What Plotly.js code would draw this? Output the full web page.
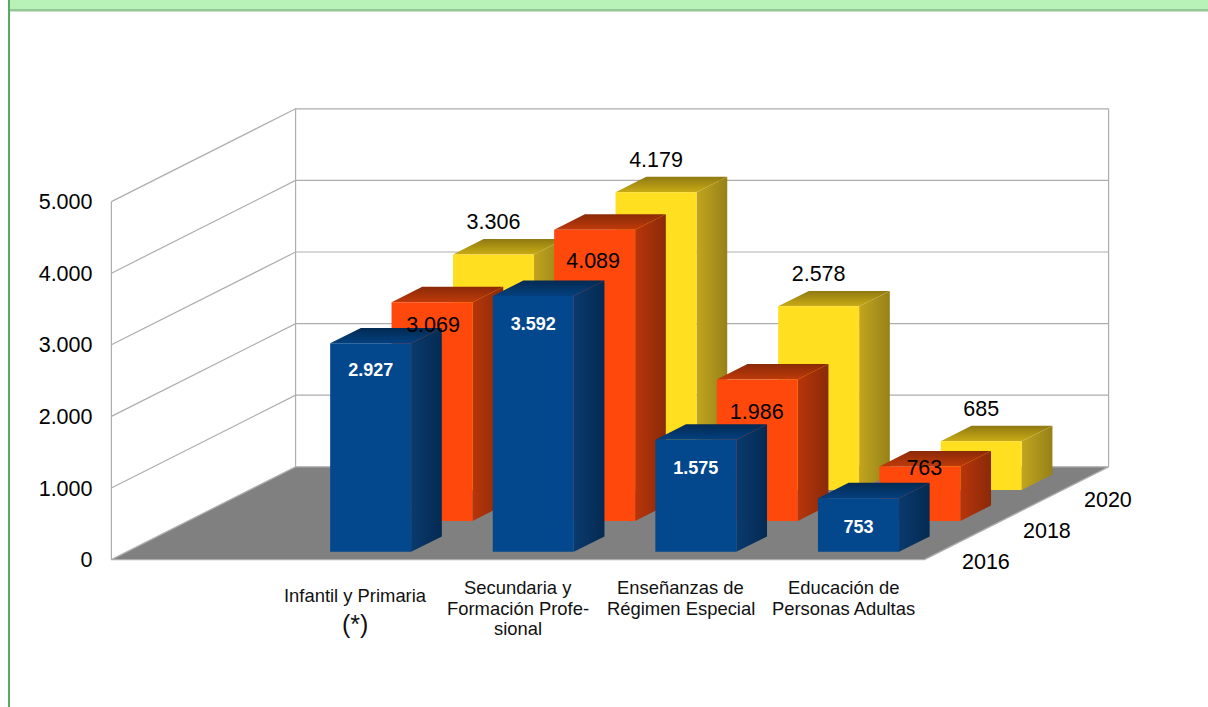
<!DOCTYPE html>
<html>
<head>
<meta charset="utf-8">
<script src="https://cdn.plot.ly/plotly-3.0.1.min.js"></script>
<style>html,body{margin:0;padding:0;background:#fff;overflow:hidden}#chart{width:1208px;height:707px}</style>
</head>
<body>
<div id="chart"></div>
<script>
// ---- data ----
const categories = [
  ["Infantil y Primaria", "(*)"],
  ["Secundaria y", "Formación Profe-", "sional"],
  ["Enseñanzas de", "Régimen Especial"],
  ["Educación de", "Personas Adultas"]
];
const years = ["2016", "2018", "2020"];
const values2016 = [2927, 3592, 1575, 753];
const values2018 = [3069, 4089, 1986, 763];
const values2020 = [3306, 4179, 2578, 685];
const tickValues = [0, 1000, 2000, 3000, 4000, 5000];

// ---- styles ----
const FONT = "Liberation Sans, Arial, sans-serif";
const W = 1208, H = 707;
const pxPerCat = 162.6, pxPerVal = 0.0716, originX = 355.3, originY = 559.6;
const depthX = 0.3776, depthY = 432;          // oblique shift per depth row
const catMin = -1.5, catMax = 3.5, rows = 3, valMax = 5000;
const halfBar = 0.249;
const barScale = 0.995;

const seriesStyle = [
  {front:"#03478D", side:["#0A3A6E","#042A52"], top:["#032A52","#04407F"], label:{color:"#FFFFFF",size:18,bold:true}, dy:[28.5,29.5,29.5,30.5]},
  {front:"#FF480C", side:["#B8350B","#8A2A08"], top:["#8A2A08","#BF3A0A"], label:{color:"#000000",size:21.5}, dy:[24,33,34,3], dx:[1,-1.5,-0.5,4.5]},
  {front:"#FFDF1F", side:["#C2A51F","#968118"], top:["#8F7A12","#C9AB15"], label:{color:"#000000",size:21.5}, dy:[-30.5,-30.5,-30.5,-30.5]}
];

// oblique projection into the plot's own axis units
const X = (c, d) => c + depthX * d;
const Y = (v, d) => v + depthY * d;
const poly = (pts) => ({x: pts.map(p => X(p[0], p[2])), y: pts.map(p => Y(p[1], p[2]))});
const fmt = (v) => String(v).replace(/\B(?=(\d{3})+$)/g, ".");

const traces = [];
function area(pts, fill, extra) {
  const p = poly(pts.concat([pts[0]]));
  traces.push(Object.assign({type:"scatter", mode:"none", x:p.x, y:p.y, fill:"toself",
    fillcolor:fill, hoverinfo:"skip", showlegend:false}, extra || {}));
}
function line(pts, color, width) {
  const p = poly(pts);
  traces.push({type:"scatter", mode:"lines", x:p.x, y:p.y, line:{color:color, width:width},
    hoverinfo:"skip", showlegend:false});
}

// floor
area([[catMin,0,0],[catMax,0,0],[catMax,0,rows],[catMin,0,rows]], "#808080");
// walls and grid
const gridColor = "#ADADAD";
tickValues.forEach(v => {
  if (v === 0) {
    line([[catMin,0,0],[catMax,0,0]], gridColor, 1.3);
    line([[catMin,0,0],[catMin,0,rows],[catMax,0,rows],[catMax,0,0]], gridColor, 1.3);
  } else {
    line([[catMin,v,0],[catMin,v,rows],[catMax,v,rows]], gridColor, 1.2);
  }
});
line([[catMin,0,0],[catMin,valMax,0]], gridColor, 1.2);
line([[catMin,0,rows],[catMin,valMax,rows]], gridColor, 1.2);
line([[catMax,0,rows],[catMax,valMax,rows]], gridColor, 1.2);

// bars, back row first
const allSeries = [values2016, values2018, values2020];
for (let r = rows - 1; r >= 0; r--) {
  const st = seriesStyle[r], vals = allSeries[r];
  const d0 = r + 0.25, d1 = r + 0.75;
  vals.forEach((val, c) => {
    const v = val * barScale, l = c - halfBar, h = c + halfBar;
    area([[h,0,d0],[h,0,d1],[h,v,d1],[h,v,d0]], st.side[0], {
      fillgradient:{type:"horizontal", colorscale:[[0,st.side[0]],[1,st.side[1]]]}});
    area([[l,v,d0],[h,v,d0],[h,v,d1],[l,v,d1]], st.top[0], {
      fillgradient:{type:"vertical", colorscale:[[0,st.top[1]],[1,st.top[0]]]}});
    area([[l,0,d0],[h,0,d0],[h,v,d0],[l,v,d0]], st.front);
  });
}

// value labels on top of every bar
for (let r = 0; r < rows; r++) {
  const st = seriesStyle[r], vals = allSeries[r], d0 = r + 0.25;
  traces.push({type:"scatter", mode:"text", hoverinfo:"skip", showlegend:false,
    x: vals.map((v, c) => X(c + ((st.dx ? st.dx[c] : 0) / pxPerCat), d0)),
    y: vals.map((v, c) => Y(v * barScale - st.dy[c] / pxPerVal, d0)),
    text: vals.map(fmt),
    textposition: "middle center",
    textfont: {family: FONT, size: st.label.size, color: st.label.color,
               weight: st.label.bold ? 700 : 400}
  });
}

// category labels (one annotation per line) and depth labels
const annotations = [];
const lineOffset = [[35.5, 64], [27.5, 48.5, 68.5], [27.5, 48.5], [27.5, 48.5]];
categories.forEach((lines, c) => {
  lines.forEach((t, i) => {
    annotations.push({xref:"x", yref:"y", x:c, y:0, text:t, showarrow:false,
      xanchor:"center", yanchor:"middle", yshift:-lineOffset[c][i],
      font:{family:FONT, size: t === "(*)" ? 25 : 18.4, color:"#111111"}});
  });
});
years.forEach((t, r) => {
  annotations.push({xref:"x", yref:"y", x:X(catMax, r + 0.5), y:Y(0, r + 0.5), text:t, showarrow:false,
    xanchor:"center", yanchor:"middle", xshift:30.5, yshift:-17.5,
    font:{family:FONT, size:21.5, color:"#000000"}});
});

const layout = {
  width:W, height:H, autosize:false,
  margin:{l:0, r:0, t:0, b:0, pad:0},
  paper_bgcolor:"#FFFFFF", plot_bgcolor:"rgba(0,0,0,0)",
  showlegend:false,
  separators:",.",
  font:{family:FONT, color:"#000000"},
  hovermode:false,
  xaxis:{range:[(0 - originX) / pxPerCat, (W - originX) / pxPerCat], visible:false, fixedrange:true},
  yaxis:{range:[(originY - H) / pxPerVal, originY / pxPerVal], anchor:"free", position:112.5 / W,
    tickmode:"array", tickvals:tickValues, tickformat:",d", ticks:"", showgrid:false, zeroline:false,
    showline:false, ticklabelstandoff:20, tickfont:{family:FONT, size:21.5, color:"#000000"}, fixedrange:true},
  shapes:[
    {type:"rect", xref:"paper", yref:"paper", x0:8/W, x1:1, y0:1, y1:1-9/H, fillcolor:"#B8F2B8", line:{width:0}, layer:"above"},
    {type:"rect", xref:"paper", yref:"paper", x0:8/W, x1:1, y0:1-9/H, y1:1-11.5/H, fillcolor:"#93C793", line:{width:0}, layer:"above"},
    {type:"rect", xref:"paper", yref:"paper", x0:8/W, x1:10/W, y0:1, y1:0, fillcolor:"#56AB66", line:{width:0}, layer:"above"}
  ],
  annotations:annotations
};
Plotly.newPlot("chart", traces, layout, {displayModeBar:false, staticPlot:true});
</script>
</body>
</html>
